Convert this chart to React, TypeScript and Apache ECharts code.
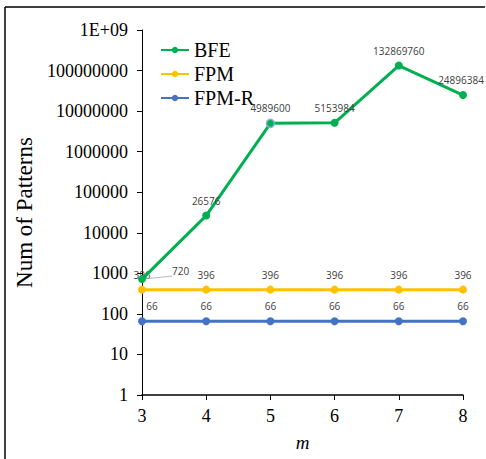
import React, { useEffect, useRef } from "react";
import * as echarts from "echarts";

const categories = ["3", "4", "5", "6", "7", "8"];
const bfe = [720, 26576, 4989600, 5153984, 132869760, 24896384];
const fpm = [396, 396, 396, 396, 396, 396];
const fpmR = [66, 66, 66, 66, 66, 66];
const legendNames = ["BFE", "FPM", "FPM-R"];

const SERIF = "Liberation Serif";
const LABEL_FONT = "'Open Sans', 'Noto Sans', sans-serif";

export default function App() {
  const ref = useRef<HTMLDivElement>(null);
  useEffect(() => {
    const chart = echarts.init(ref.current!, null, { renderer: "svg" });
    const lbl = { show: true, position: "top", fontFamily: LABEL_FONT, fontSize: 10, color: "#404040", distance: 6 };
    const legendText = { fontFamily: SERIF, fontSize: 20, color: "#000", fontWeight: "normal" };
    chart.setOption({
      animation: false,
      backgroundColor: "#fff",
      textStyle: { fontFamily: SERIF },
      grid: { left: 142, right: 23, top: 30, bottom: 64, containLabel: false },
      legend: {
        left: 155,
        top: 35,
        orient: "vertical",
        itemWidth: 28,
        itemHeight: 8,
        itemGap: 4,
        textStyle: legendText,
        data: legendNames.map((n) => ({ name: n, textStyle: legendText })),
      },
      xAxis: {
        type: "category",
        data: categories,
        boundaryGap: false,
        name: "m",
        nameLocation: "middle",
        nameGap: 38,
        nameTextStyle: { fontFamily: SERIF, fontSize: 19, fontStyle: "italic", color: "#000" },
        axisLine: { lineStyle: { color: "#000", width: 1.5 } },
        axisTick: { show: true, length: 5, lineStyle: { color: "#000" } },
        axisLabel: { fontFamily: SERIF, fontSize: 18, color: "#000", margin: 12 },
        splitLine: { show: false },
      },
      yAxis: {
        type: "log",
        logBase: 10,
        min: 1,
        max: 1e9,
        name: "Num of Patterns",
        nameLocation: "middle",
        nameGap: 102,
        nameRotate: 90,
        nameTextStyle: { fontFamily: SERIF, fontSize: 23, color: "#000" },
        axisLine: { show: true, lineStyle: { color: "#000", width: 1 } },
        axisTick: { show: true, length: 5, lineStyle: { color: "#000" } },
        axisLabel: {
          fontFamily: SERIF,
          fontSize: 18,
          color: "#000",
          margin: 14,
          formatter: (v: number) => (v >= 1e9 ? "1E+09" : String(Math.round(v))),
        },
        splitLine: { show: false },
      },
      series: [
        {
          name: "BFE",
          type: "line",
          data: bfe.map((v, i) => {
            if (i === 0)
              return {
                value: v,
                label: { position: "right", offset: [20, -8] },
                labelLine: { show: true, lineStyle: { color: "#a6a6a6", width: 0.8 } },
              };
            if (i === 2) return { value: v, itemStyle: { borderColor: "#8EA9DB", borderWidth: 1.5 } };
            if (i === 5) return { value: v, label: { offset: [-2, 0] } };
            return v;
          }),
          color: "#00B050",
          symbol: "circle",
          symbolSize: 8,
          lineStyle: { width: 3, color: "#00B050" },
          label: lbl,
          z: 3,
        },
        {
          name: "FPM",
          type: "line",
          data: fpm,
          color: "#FFC000",
          symbol: "circle",
          symbolSize: 8,
          lineStyle: { width: 3, color: "#FFC000" },
          label: lbl,
          z: 2,
        },
        {
          name: "FPM-R",
          type: "line",
          data: fpmR.map((v, i) => (i === 0 ? { value: v, label: { offset: [10, 0] } } : v)),
          color: "#4472C4",
          symbol: "circle",
          symbolSize: 8,
          lineStyle: { width: 3, color: "#4472C4" },
          label: lbl,
          z: 2,
        },
      ],
      graphic: [
        { type: "line", shape: { x1: 5, y1: 7, x2: 485, y2: 7 }, style: { stroke: "#000", lineWidth: 1.5 } },
        { type: "line", shape: { x1: 5, y1: 7, x2: 5, y2: 459 }, style: { stroke: "#000", lineWidth: 1.5 } },
      ],
    });
    return () => chart.dispose();
  }, []);
  return <div ref={ref} style={{ width: 486, height: 459, position: "absolute", left: 0, top: 0 }} />;
}
